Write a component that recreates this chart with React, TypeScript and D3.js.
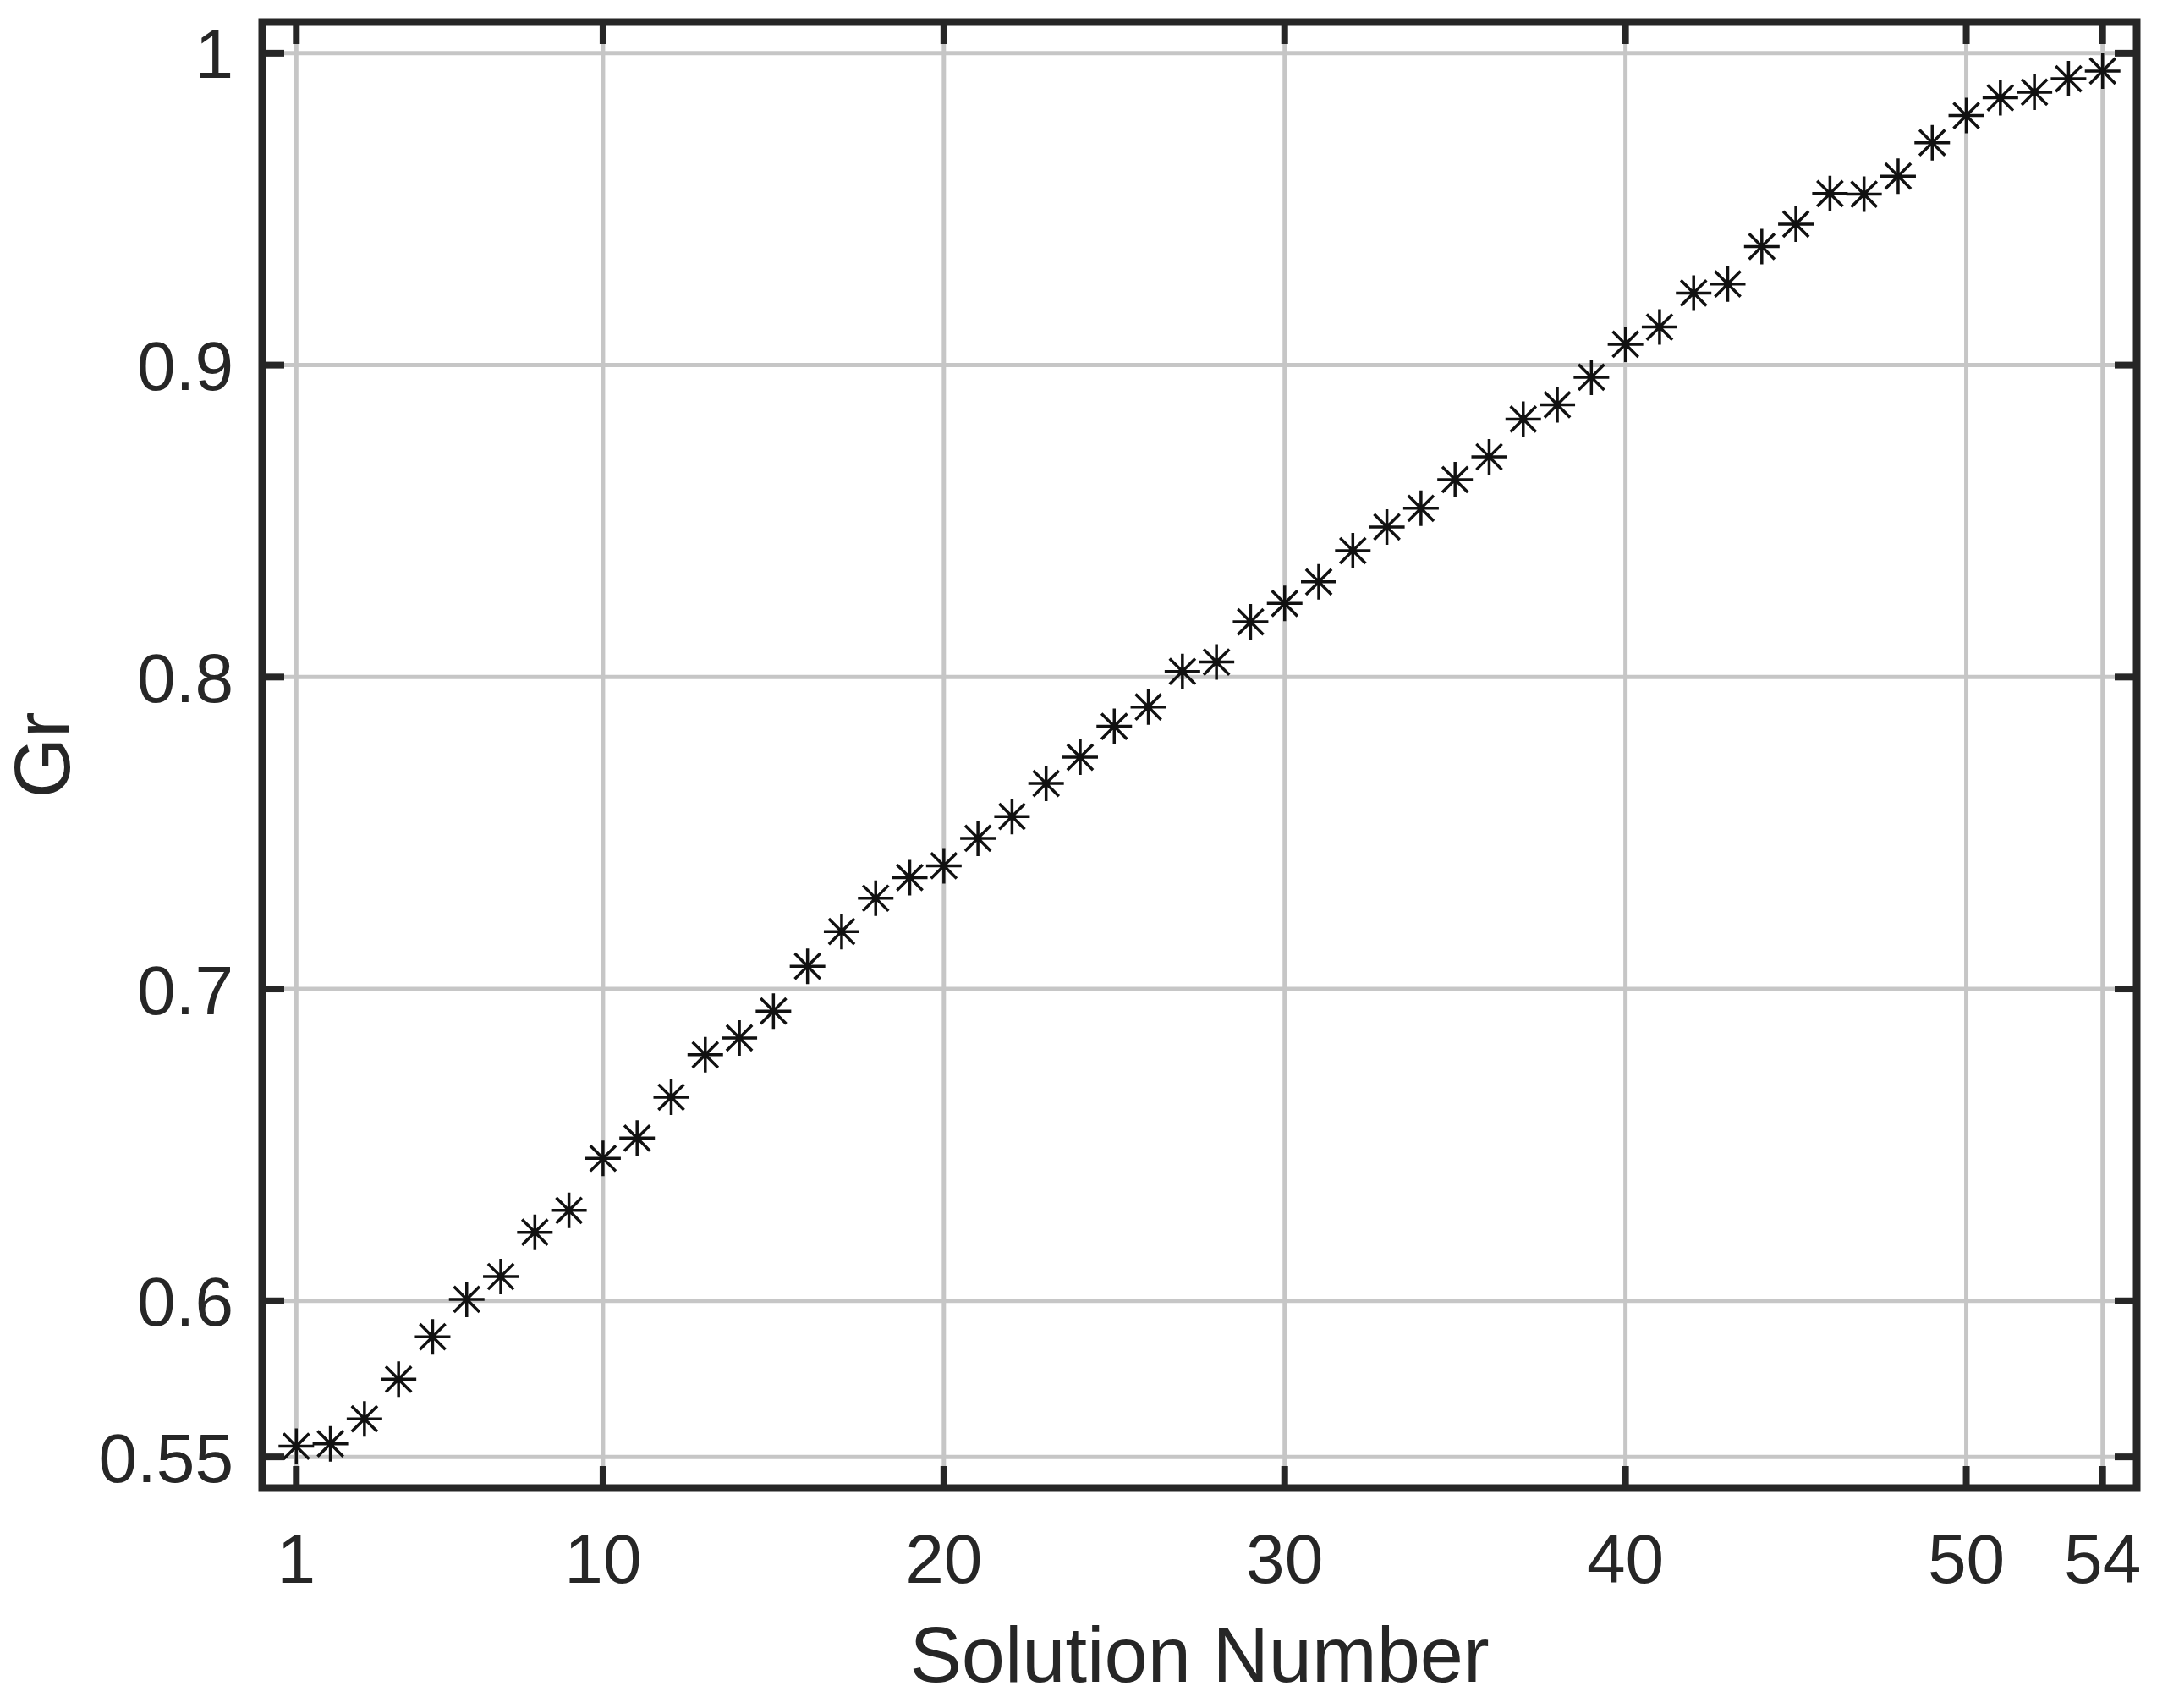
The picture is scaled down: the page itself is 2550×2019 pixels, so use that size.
import * as d3 from 'd3';

// Solution index and the Gr value
const solutionNumbers = [
  1, 2, 3, 4, 5, 6, 7, 8, 9, 10, 11, 12, 13, 14, 15, 16, 17, 18,
  19, 20, 21, 22, 23, 24, 25, 26, 27, 28, 29, 30, 31, 32, 33, 34, 35, 36,
  37, 38, 39, 40, 41, 42, 43, 44, 45, 46, 47, 48, 49, 50, 51, 52, 53, 54,
];
const grValues = [
  0.5534, 0.5542, 0.5622, 0.5749, 0.5885, 0.6005, 0.6078, 0.622, 0.629,
  0.6457, 0.6522, 0.6653, 0.6789, 0.6843, 0.6929, 0.7073, 0.7184, 0.7291,
  0.7357, 0.7395, 0.7483, 0.7553, 0.7659, 0.7743, 0.7842, 0.7904, 0.8018,
  0.8048, 0.8177, 0.8236, 0.8305, 0.8405, 0.8481, 0.8541, 0.8633, 0.8706,
  0.8827, 0.8873, 0.8961, 0.9067, 0.9122, 0.9231, 0.926, 0.938, 0.9452,
  0.955, 0.9548, 0.9606, 0.9713, 0.98, 0.9857, 0.9875, 0.9918, 0.9943,
];

const xTicks = [1, 10, 20, 30, 40, 50, 54];
const yTicks = [0.55, 0.6, 0.7, 0.8, 0.9, 1];
const xDomain = [0, 55];
const yDomain = [0.54, 1.01];

const xLabel = 'Solution Number';
const yLabel = 'Gr';

export default function App() {
  const width = 2550;
  const height = 2019;
  const margin = { top: 26, right: 24, bottom: 260, left: 310 };
  const innerWidth = width - margin.left - margin.right;
  const innerHeight = height - margin.top - margin.bottom;

  const xScale = d3.scaleLinear().domain(xDomain).range([0, innerWidth]);
  const yScale = d3.scaleLinear().domain(yDomain).range([innerHeight, 0]);

  const font = '"Liberation Sans", Arial, sans-serif';
  const tickLen = 26;
  const axisColor = '#262626';
  const gridColor = '#c6c6c6';

  // asterisk marker: plus and x combined
  const r = 21;
  const d = r * 0.72;
  const asterisk = `M${-r},0L${r},0M0,${-r}L0,${r}M${-d},${-d}L${d},${d}M${-d},${d}L${d},${-d}`;

  return (
    <svg
      width={width}
      height={height}
      style={{ position: 'absolute', left: 0, top: 0, background: '#fff' }}
    >
      <g transform={`translate(${margin.left},${margin.top})`}>
        {/* Grid */}
        {xTicks.map((t) => (
          <line
            key={`gx${t}`}
            x1={xScale(t)}
            x2={xScale(t)}
            y1={0}
            y2={innerHeight}
            stroke={gridColor}
            strokeWidth={5}
          />
        ))}
        {yTicks.map((t) => (
          <line
            key={`gy${t}`}
            x1={0}
            x2={innerWidth}
            y1={yScale(t)}
            y2={yScale(t)}
            stroke={gridColor}
            strokeWidth={5}
          />
        ))}

        {/* Markers */}
        {solutionNumbers.map((n, i) => (
          <path
            key={`m${n}`}
            d={asterisk}
            transform={`translate(${xScale(n)},${yScale(grValues[i])})`}
            fill="none"
            stroke="#111"
            strokeWidth={3.5}
          />
        ))}

        {/* Ticks (inward, on all four sides) */}
        {xTicks.map((t) => (
          <g key={`tx${t}`} stroke={axisColor} strokeWidth={8}>
            <line x1={xScale(t)} x2={xScale(t)} y1={innerHeight} y2={innerHeight - tickLen} />
            <line x1={xScale(t)} x2={xScale(t)} y1={0} y2={tickLen} />
          </g>
        ))}
        {yTicks.map((t) => (
          <g key={`ty${t}`} stroke={axisColor} strokeWidth={8}>
            <line x1={0} x2={tickLen} y1={yScale(t)} y2={yScale(t)} />
            <line x1={innerWidth} x2={innerWidth - tickLen} y1={yScale(t)} y2={yScale(t)} />
          </g>
        ))}

        {/* Box */}
        <rect
          x={0}
          y={0}
          width={innerWidth}
          height={innerHeight}
          fill="none"
          stroke={axisColor}
          strokeWidth={9}
        />

        {/* Tick labels */}
        {xTicks.map((t) => (
          <text
            key={`lx${t}`}
            x={xScale(t)}
            y={innerHeight + 112}
            textAnchor="middle"
            fontFamily={font}
            fontSize={82}
            fill="#262626"
          >
            {t}
          </text>
        ))}
        {yTicks.map((t) => (
          <text
            key={`ly${t}`}
            x={-34}
            y={yScale(t)}
            dy="0.36em"
            textAnchor="end"
            fontFamily={font}
            fontSize={82}
            fill="#262626"
          >
            {t}
          </text>
        ))}

        {/* Axis labels */}
        <text
          x={innerWidth / 2}
          y={innerHeight + 229}
          textAnchor="middle"
          fontFamily={font}
          fontSize={92}
          fill="#262626"
        >
          {xLabel}
        </text>
        <text
          transform={`translate(${82 - margin.left},${innerHeight / 2}) rotate(-90)`}
          textAnchor="middle"
          fontFamily={font}
          fontSize={92}
          fill="#262626"
        >
          {yLabel}
        </text>
      </g>
    </svg>
  );
}
